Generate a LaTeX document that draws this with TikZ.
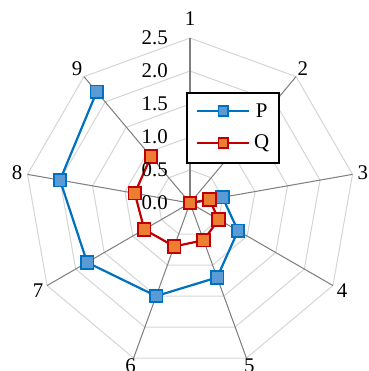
\documentclass[tikz,border=0pt]{standalone}
\usepackage{fontspec}
\setmainfont{Liberation Serif}
\definecolor{pline}{HTML}{0070C0}
\definecolor{pfill}{HTML}{5B9BD5}
\definecolor{qline}{HTML}{C00000}
\definecolor{qfill}{HTML}{ED7D31}

\begin{document}
\begin{tikzpicture}[
        grid/.style={draw=black!16,line width=0.45pt},
        spoke/.style={draw=black!50,line width=0.45pt},
        pser/.style={draw=pline,line width=0.95pt},
        qser/.style={draw=qline,line width=0.95pt},
        pmark/.style={rectangle,draw=pline,fill=pfill,line width=0.75pt,minimum size=0.19cm,inner sep=0pt},
        qmark/.style={rectangle,draw=qline,fill=qfill,line width=0.75pt,minimum size=0.19cm,inner sep=0pt},
        font=\fontsize{9}{11}\selectfont]

    \useasboundingbox (-2.879,-2.545) rectangle (2.697,3.076);

    % grid and spokes
    \foreach \r in {0.5,1.0,...,2.5}
        \draw[grid] (90:\r) \foreach \k in {1,...,8} {-- (90-40*\k:\r)} -- cycle;
    \coordinate (o) at (0,0);
    \foreach \k in {1,...,9}
        \draw[spoke] (o) -- (130-40*\k:2.5) coordinate (a\k);

    % legend
    \node[draw,line width=0.85pt,fill=white,minimum width=1.40cm,minimum height=1.05cm] (leg) at (0.648,1.136) {};
    \coordinate (lp) at (0.505,1.398);
    \coordinate (lq) at (0.505,0.905);
    \draw[pser] ([xshift=-0.40cm]lp) -- ([xshift=0.39cm]lp);
    \node[pmark,minimum size=0.15cm] (lpm) at (lp) {};
    \node (lpt) at (1.086,1.398) {P};
    \draw[qser] ([xshift=-0.40cm]lq) -- ([xshift=0.39cm]lq);
    \node[qmark,minimum size=0.15cm] (lqm) at (lq) {};
    \node (lqt) at (1.086,0.905) {Q};

    % series P
    \foreach \v [count=\k] in {0,0,0.5,0.84,1.2,1.5,1.8,2.0,2.2}
        \coordinate (p\k) at (130-40*\k:\v);
    \draw[pser] (p1) \foreach \k in {2,...,9} {-- (p\k)};
    \foreach \k in {1,...,9}
        \node[pmark] (pm\k) at (p\k) {};

    % series Q
    \foreach \v [count=\k] in {0,0,0.3,0.5,0.6,0.7,0.8,0.85,0.92}
        \coordinate (q\k) at (130-40*\k:\v);
    \draw[qser] (q1) \foreach \k in {2,...,9} {-- (q\k)};
    \foreach \k in {1,...,9}
        \node[qmark] (qm\k) at (q\k) {};

    % labels
    \foreach \tk [count=\i] in {0.0,0.5,1.0,1.5,2.0,2.5}
        \node[anchor=east,inner sep=0pt] (t\i) at (-0.33,{(\i-1)*0.5}) {\tk};
    \foreach \k/\r in {1/2.8,2/2.66,3/2.66,4/2.66,5/2.63,6/2.63,7/2.66,8/2.66,9/2.66}
        \node (lab\k) at (130-40*\k:\r) {\k};
\end{tikzpicture}
\end{document}
